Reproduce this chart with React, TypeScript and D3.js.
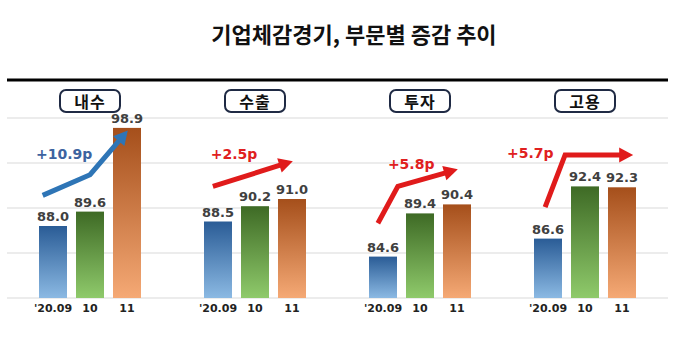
import React from "react";
import * as d3 from "d3";

const title = "기업체감경기, 부문별 증감 추이";
const categories = ["내수", "수출", "투자", "고용"];
const periods = ["'20.09", "10", "11"];
const values = [
  [88.0, 89.6, 98.9],
  [88.5, 90.2, 91.0],
  [84.6, 89.4, 90.4],
  [86.6, 92.4, 92.3],
];
const changeLabels = ["+10.9p", "+2.5p", "+5.8p", "+5.7p"];
// arrow paths: [barIndexPosition, value] within each group
const arrowPaths: [number, number][][] = [
  [[0.1, 91.4], [1.38, 93.7], [2.4, 98.6]],
  [[0.24, 92.4], [2.4, 95.2]],
  [[0.24, 88.3], [0.78, 92.4], [2.4, 94.3]],
  [[0.3, 90.1], [0.84, 95.9], [2.68, 95.9]],
];
const labelPos: [number, number][] = [
  [0.68, 96.0],
  [0.81, 96.0],
  [1.14, 94.9],
  [-0.1, 96.1],
];
const gridValues = [80, 85, 90, 95, 100];

const W = 680;
const H = 356;

export default function App() {
  const y = d3.scaleLinear().domain([80, 100]).range([298, 118]);
  const groupX = d3.scaleBand<string>().domain(categories).range([39, 699]).paddingInner(0).paddingOuter(0);
  const step = 37;
  const barW = 28;
  const barX = (g: number, i: number) => (groupX(categories[g]) as number) + i * step;
  const posX = (g: number, p: number) => (groupX(categories[g]) as number) + p * step;

  const colors = [
    ["#2a5c96", "#8bb9e3"],
    ["#3e6a25", "#8fca6b"],
    ["#a54f1b", "#f5a975"],
  ];
  const labelColors = ["#3d63a0", "#e02020", "#e02020", "#e02020"];
  const arrowColors = ["#2e75b6", "#e01b1b", "#e01b1b", "#e01b1b"];
  const line = d3.line<[number, number]>();

  const arrowHead = (pts: [number, number][], color: string, key: string) => {
    const a = pts[pts.length - 2];
    const b = pts[pts.length - 1];
    const ang = Math.atan2(b[1] - a[1], b[0] - a[0]);
    const len = 14;
    const hw = 7.5;
    const bx = b[0] - len * Math.cos(ang);
    const by = b[1] - len * Math.sin(ang);
    const px = -Math.sin(ang);
    const py = Math.cos(ang);
    const tri = [
      [b[0], b[1]],
      [bx + px * hw, by + py * hw],
      [bx - px * hw, by - py * hw],
    ];
    return <polygon key={key} points={tri.map((p) => p.join(",")).join(" ")} fill={color} />;
  };

  return (
    <svg width={W} height={H} style={{ display: "block", position: "absolute", left: 0, top: 0, background: "#fff" }}>
      <defs>
        {colors.map((c, i) => (
          <linearGradient key={i} id={`g${i}`} x1="0" y1="0" x2="0" y2="1">
            <stop offset="0%" stopColor={c[0]} />
            <stop offset="100%" stopColor={c[1]} />
          </linearGradient>
        ))}
      </defs>
      <text x={W / 2 + 14} y={43} textAnchor="middle" fontFamily="'Noto Sans CJK KR', sans-serif" fontWeight={700} fontSize={22} fill="#111">
        {title}
      </text>
      <line x1={7} x2={668} y1={80} y2={80} stroke="#000" strokeWidth={3} />
      {gridValues.map((v) => (
        <line key={v} x1={7} x2={668} y1={y(v)} y2={y(v)} stroke="#e6e6e6" strokeWidth={1.5} />
      ))}
      {categories.map((c, g) => {
        const cx = barX(g, 0) + (2 * step + barW) / 2;
        return (
          <g key={c}>
            <rect x={cx - 30} y={90} width={60} height={22} rx={6} fill="#fff" stroke="#1f2a44" strokeWidth={2} />
            <text x={cx} y={108} textAnchor="middle" fontFamily="'Noto Sans CJK KR', sans-serif" fontWeight={700} fontSize={16} fill="#111" letterSpacing={1}>
              {c}
            </text>
          </g>
        );
      })}
      {values.map((vals, g) =>
        vals.map((v, i) => (
          <g key={`${g}-${i}`}>
            <rect x={barX(g, i)} y={y(v)} width={barW} height={y(80) - y(v)} fill={`url(#g${i})`} />
            <text x={barX(g, i) + barW / 2} y={y(v) - 5} textAnchor="middle" fontFamily="'DejaVu Sans', sans-serif" fontWeight={700} fontSize={13} fill="#404040">
              {v.toFixed(1)}
            </text>
            <text x={barX(g, i) + barW / 2} y={312} textAnchor="middle" fontFamily="'DejaVu Sans', sans-serif" fontWeight={700} fontSize={11} fill="#222">
              {periods[i]}
            </text>
          </g>
        ))
      )}
      {arrowPaths.map((path, g) => {
        const pts = path.map(([p, v]) => [posX(g, p), y(v)] as [number, number]);
        const a = pts[pts.length - 2];
        const b = pts[pts.length - 1];
        const ang = Math.atan2(b[1] - a[1], b[0] - a[0]);
        const trimmed = pts.slice(0, -1).concat([[b[0] - 10 * Math.cos(ang), b[1] - 10 * Math.sin(ang)] as [number, number]]);
        return (
          <g key={`a${g}`}>
            <path d={line(trimmed) as string} fill="none" stroke={arrowColors[g]} strokeWidth={5} strokeLinejoin="miter" />
            {arrowHead(pts, arrowColors[g], `h${g}`)}
          </g>
        );
      })}
      {changeLabels.map((t, g) => (
        <text key={t} x={posX(g, labelPos[g][0])} y={y(labelPos[g][1]) + 5} textAnchor="middle" fontFamily="'DejaVu Sans', sans-serif" fontWeight={700} fontSize={14} fill={labelColors[g]}>
          {t}
        </text>
      ))}
    </svg>
  );
}
